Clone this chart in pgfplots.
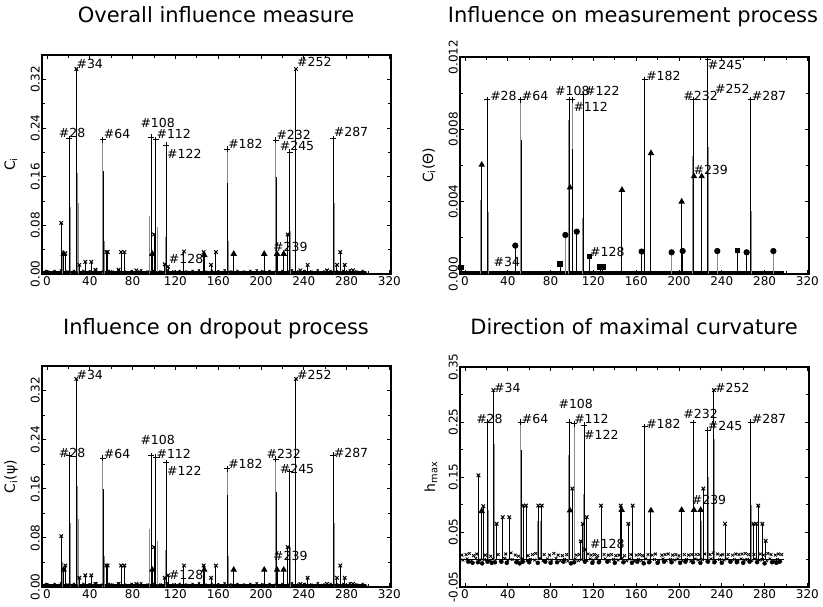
\documentclass[border=0pt]{standalone}
\usepackage{fontspec}
\setmainfont{DejaVu Sans}
\usepackage{pgfplots}
\pgfplotsset{compat=1.18}
\newcommand{\lab}{\fontsize{12.5}{13}\selectfont}
\newcommand{\ttl}{\fontsize{21}{24}\selectfont}
\tikzset{lbl/.style={anchor=west, inner sep=0pt, font=\lab}}
\pgfplotsset{
  panel/.style={
    scale only axis, width=349pt, anchor=south west,
    xmin=-4.7, xmax=321.5,
    xtick={0,40,...,320}, xticklabels={0,40,80,120,160,200,240,280,320},
    minor x tick num=1, minor y tick num=1,
    tick align=inside, major tick length=4pt, minor tick length=3pt,
    axis line style={line width=1.2pt},
    every tick/.style={black, line width=0.8pt},
    tick label style={font=\fontsize{12}{13}\selectfont},
    yticklabel style={rotate=90, anchor=south, inner sep=2pt},
    xticklabel style={inner sep=2pt},
    scaled y ticks=false, clip=false,
    ylabel style={font=\fontsize{14}{15}\selectfont, at={(axis description cs:-0.089,0.5)}, anchor=center},
  },
  gneedle/.style={ycomb, color=black!45, line width=1pt, mark=none},
  bneedle/.style={ycomb, black, line width=1pt},
}
\pgfplotstableread{
x y
-4 0.003
-1 0.005
1 0.004
4 0.002
7 0.005
10 0.003
13 0.006
16 0.002
19 0.004
22 0.003
25 0.005
28 0.002
31 0.003
34 0.005
37 0.002
40 0.004
43 0.003
46 0.006
49 0.002
52 0.004
55 0.003
58 0.005
61 0.004
64 0.002
67 0.006
70 0.003
73 0.004
76 0.002
79 0.005
82 0.003
85 0.004
88 0.006
91 0.002
94 0.004
97 0.003
100 0.005
103 0.002
106 0.004
109 0.003
112 0.006
115 0.002
118 0.004
121 0.003
124 0.005
127 0.002
130 0.004
133 0.003
136 0.005
139 0.002
142 0.006
145 0.003
148 0.004
151 0.002
154 0.005
157 0.003
160 0.004
163 0.002
166 0.006
169 0.003
172 0.004
175 0.002
178 0.005
181 0.003
184 0.004
187 0.002
190 0.005
193 0.003
196 0.006
199 0.002
202 0.004
205 0.003
208 0.005
211 0.002
214 0.004
217 0.003
220 0.005
223 0.002
226 0.004
229 0.006
232 0.003
235 0.004
238 0.002
241 0.005
244 0.003
247 0.004
250 0.002
253 0.006
256 0.003
259 0.004
262 0.002
265 0.005
268 0.003
271 0.004
274 0.002
277 0.005
280 0.003
283 0.006
286 0.002
289 0.004
292 0.003
295 0.005
298 0.002
}\noiseL
\begin{document}
\begin{tikzpicture}
\useasboundingbox (0,0) rectangle (823pt,606pt);
\node[anchor=base, font=\ttl, inner sep=0pt] at (216pt,583.5pt) {Overall influence measure};
\node[anchor=base, font=\ttl, inner sep=0pt] at (633pt,583.5pt) {Influence on measurement process};
\node[anchor=base, font=\ttl, inner sep=0pt] at (216pt,271.5pt) {Influence on dropout process};
\node[anchor=base, font=\ttl, inner sep=0pt] at (634pt,271.5pt) {Direction of maximal curvature};

% ---------------- Top left: overall
\begin{axis}[panel, at={(42pt,332pt)}, height=219pt, ymin=0, ymax=0.36,
  ytick={0,0.08,0.16,0.24,0.32}, yticklabels={0.00,0.08,0.16,0.24,0.32},
  ylabel={C\textsubscript{i}}]
\addplot[black, line width=3pt] coordinates {(-4,0.0022) (298,0.0022)};
\addplot[bneedle, mark=x, mark size=1.5pt, line width=0.8pt] table {\noiseL};
\addplot[gneedle] coordinates {(14,0.04) (22,0.11) (28.2,0.166) (29.3,0.117) (54,0.055) (96,0.095) (103,0.078) (110.5,0.06) (169.5,0.055) (228,0.07) (232,0.2) (268.3,0.117)};
\addplot[gneedle, mark=+, mark size=3pt, mark options={black, line width=1pt}] coordinates {(52.3,0.221) (168.5,0.205) (213.7,0.22)};
\addplot[bneedle] coordinates {(52.9,0.17) (169.1,0.15) (214.3,0.16)};
\addplot[bneedle, mark=+, mark size=3pt] coordinates {(20.9,0.222) (97.2,0.225) (101.6,0.221) (111.5,0.212) (226.8,0.2) (267.3,0.222)};
\addplot[bneedle, mark=x, mark size=2.5pt] coordinates {(27.4,0.337) (232.7,0.337) (13.3,0.084) (100,0.065) (224.9,0.065) (17.1,0.034) (30.2,0.015) (35.8,0.02) (41.4,0.02) (45.2,0.007) (55.5,0.036) (56.7,0.036) (66.9,0.007) (69.2,0.036) (72.3,0.036) (83.5,0.006) (110,0.016) (113.1,0.012) (128,0.037) (146.4,0.036) (153.3,0.015) (157.9,0.036) (236.8,0.006) (243.6,0.015) (261.7,0.006) (271,0.015) (274.1,0.036) (278.2,0.015) (286,0.006)};
\addplot[bneedle, mark=triangle*, mark size=2.8pt] coordinates {(15.6,0.033) (98.4,0.033) (147,0.031) (174.5,0.033) (203,0.033) (215,0.033) (221.2,0.033)};
\node[lbl] at (axis cs:27.4,0.345) {\#34};
\node[lbl] at (axis cs:10.9,0.232) {\#28};
\node[lbl] at (axis cs:53,0.231) {\#64};
\node[lbl] at (axis cs:87.2,0.248) {\#108};
\node[lbl] at (axis cs:102.2,0.231) {\#112};
\node[lbl] at (axis cs:112.1,0.198) {\#122};
\node[lbl] at (axis cs:113.7,0.024) {\#128};
\node[lbl] at (axis cs:169.2,0.214) {\#182};
\node[lbl] at (axis cs:214.3,0.229) {\#232};
\node[lbl] at (axis cs:217.4,0.21) {\#245};
\node[lbl] at (axis cs:211.2,0.044) {\#239};
\node[lbl] at (axis cs:233.6,0.349) {\#252};
\node[lbl] at (axis cs:267.9,0.233) {\#287};
\end{axis}

% ---------------- Top right: measurement
\begin{axis}[panel, at={(460pt,332pt)}, height=217pt, ymin=0, ymax=0.012,
  ytick={0,0.004,0.008,0.012}, yticklabels={0.000,0.004,0.008,0.012},
  ylabel={C\textsubscript{i}(Θ)}]
\addplot[black, line width=3pt] coordinates {(-4,0.00006) (298,0.00006)};
\addplot[gneedle] coordinates {(14.8,0.0041) (21.6,0.00345) (53.2,0.0026) (97,0.0085) (110,0.0031) (202,0.0035) (212.8,0.0065) (220.6,0.0054) (227.4,0.007) (254.5,0.00129) (267.8,0.0035)};
\addplot[gneedle, mark=+, mark size=3pt, mark options={black, line width=1pt}] coordinates {(52.3,0.00964) (100.3,0.00964)};
\addplot[bneedle] coordinates {(52.8,0.0074) (100.8,0.0069)};
\addplot[bneedle, mark=+, mark size=3pt] coordinates {(20.9,0.00964) (97.5,0.00964) (110.6,0.0099) (168.2,0.01074) (213.4,0.00964) (226.8,0.01185) (267,0.00964)};
\addplot[bneedle, mark=triangle*, mark size=2.8pt] coordinates {(15.6,0.00604) (98.1,0.00478) (146.7,0.00465) (173.8,0.00668) (202.5,0.004) (214,0.0054) (221.2,0.0054)};
\addplot[gneedle, mark=*, mark size=2.6pt, mark options={black}] coordinates {(93.8,0.00216) (193.1,0.0012) (235.8,0.00127) (288.2,0.00127)};
\addplot[bneedle, mark=*, mark size=2.6pt] coordinates {(47,0.00157) (104.4,0.00234) (165.1,0.00124) (203.4,0.00127) (263.2,0.0012)};
\addplot[bneedle, mark=square*, mark size=2.3pt] coordinates {(-3.7,0.00035) (88.8,0.00055) (116.2,0.00096) (126.2,0.0004) (128.7,0.0004) (254.5,0.00129)};
\node[lbl] at (axis cs:23.4,0.00982) {\#28};
\node[lbl] at (axis cs:53,0.00982) {\#64};
\node[lbl] at (axis cs:84.1,0.01015) {\#108};
\node[lbl] at (axis cs:112.1,0.01015) {\#122};
\node[lbl] at (axis cs:101.2,0.00927) {\#112};
\node[lbl] at (axis cs:26.5,0.00068) {\#34};
\node[lbl] at (axis cs:116.8,0.0012) {\#128};
\node[lbl] at (axis cs:169.2,0.01097) {\#182};
\node[lbl] at (axis cs:204,0.00982) {\#232};
\node[lbl] at (axis cs:233.6,0.01023) {\#252};
\node[lbl] at (axis cs:226.8,0.01158) {\#245};
\node[lbl] at (axis cs:213.4,0.00576) {\#239};
\node[lbl] at (axis cs:267.9,0.00982) {\#287};
\end{axis}

% ---------------- Bottom left: dropout
\begin{axis}[panel, at={(42pt,19pt)}, height=221pt, ymin=0, ymax=0.36,
  ytick={0,0.08,0.16,0.24,0.32}, yticklabels={0.00,0.08,0.16,0.24,0.32},
  ylabel={C\textsubscript{i}(ψ)}]
\addplot[black, line width=3pt] coordinates {(-4,0.0022) (298,0.0022)};
\addplot[bneedle, mark=x, mark size=1.5pt, line width=0.8pt] table {\noiseL};
\addplot[gneedle] coordinates {(14,0.04) (22,0.105) (28.2,0.165) (29.3,0.11) (54,0.05) (96,0.095) (103,0.075) (110.5,0.06) (169.5,0.05) (228,0.065) (232,0.23) (268.3,0.105)};
\addplot[gneedle, mark=+, mark size=3pt, mark options={black, line width=1pt}] coordinates {(52.3,0.21) (168.5,0.193) (213.7,0.208)};
\addplot[bneedle] coordinates {(52.9,0.16) (169.1,0.15) (214.3,0.155)};
\addplot[bneedle, mark=+, mark size=3pt] coordinates {(20.9,0.215) (97.2,0.214) (101.6,0.211) (111.5,0.202) (226.8,0.188) (267.3,0.215)};
\addplot[bneedle, mark=x, mark size=2.5pt] coordinates {(27.4,0.339) (232.7,0.339) (13.3,0.083) (100,0.065) (224.9,0.065) (17.1,0.035) (30.2,0.015) (35.8,0.019) (41.4,0.019) (45.2,0.005) (55.5,0.035) (56.7,0.035) (66.9,0.005) (69.2,0.035) (72.3,0.035) (83.5,0.005) (110,0.015) (113.1,0.019) (128,0.035) (146.4,0.035) (153.3,0.015) (157.9,0.035) (236.8,0.005) (243.6,0.015) (261.7,0.005) (271,0.015) (274.1,0.035) (278.2,0.015) (286,0.005)};
\addplot[bneedle, mark=triangle*, mark size=2.8pt] coordinates {(15.6,0.028) (98.4,0.028) (147,0.028) (174.5,0.028) (203,0.028) (215,0.028) (221.2,0.028)};
\node[lbl] at (axis cs:27.4,0.345) {\#34};
\node[lbl] at (axis cs:10.9,0.219) {\#28};
\node[lbl] at (axis cs:53,0.217) {\#64};
\node[lbl] at (axis cs:87.2,0.24) {\#108};
\node[lbl] at (axis cs:102.2,0.217) {\#112};
\node[lbl] at (axis cs:112.1,0.189) {\#122};
\node[lbl] at (axis cs:113.7,0.019) {\#128};
\node[lbl] at (axis cs:169.2,0.2) {\#182};
\node[lbl] at (axis cs:205,0.217) {\#232};
\node[lbl] at (axis cs:217.4,0.193) {\#245};
\node[lbl] at (axis cs:211.2,0.05) {\#239};
\node[lbl] at (axis cs:233.6,0.346) {\#252};
\node[lbl] at (axis cs:267.9,0.219) {\#287};
\end{axis}

% ---------------- Bottom right: h_max
\begin{axis}[panel, at={(460pt,19pt)}, height=220pt, ymin=-0.05, ymax=0.35,
  ytick={-0.05,0.05,0.15,0.25,0.35}, yticklabels={-0.05,0.05,0.15,0.25,0.35},
  ylabel={h\textsubscript{max}}, ylabel style={at={(axis description cs:-0.083,0.5)}}]
\addplot[black, line width=0.8pt] coordinates {(-4,0) (298,0)};
\addplot[only marks, black, mark=x, mark size=2pt, line width=0.8pt] coordinates {(-3,0.008) (1,0.009) (4,0.011) (8,0.007) (11,0.010) (19,0.008) (24,0.006) (31,0.009) (38,0.010) (43,0.012) (47,0.008) (50,0.006) (59,0.007) (63,0.009) (66,0.011) (74,0.009) (79,0.008) (83,0.011) (87,0.008) (91,0.007) (95,0.009) (104,0.008) (107,0.009) (115,0.010) (118,0.008) (121,0.009) (124,0.007) (130,0.009) (134,0.008) (137,0.009) (141,0.007) (144,0.008) (149,0.007) (155,0.009) (160,0.008) (163,0.009) (166,0.007) (171,0.009) (175,0.008) (178,0.010) (184,0.008) (187,0.009) (190,0.010) (194,0.008) (197,0.009) (200,0.007) (205,0.009) (209,0.008) (212,0.009) (216,0.009) (219,0.009) (224,0.010) (229,0.009) (232,0.012) (236,0.010) (239,0.008) (241,0.009) (246,0.009) (250,0.008) (253,0.010) (256,0.009) (259,0.010) (262,0.011) (265,0.009) (270,0.009) (276,0.010) (279,0.008) (283,0.011) (286,0.009) (290,0.008) (293,0.010) (296,0.009)};
\addplot[only marks, black, mark=x, mark size=2pt, line width=0.8pt] coordinates {(-2,-0.001) (2,0.001) (6,-0.002) (10,0.002) (14,-0.001) (18,0.000) (23,-0.003) (26,0.001) (33,-0.002) (37,0.002) (40,-0.001) (44,0.000) (49,-0.003) (53,0.001) (58,-0.002) (61,0.000) (65,-0.001) (70,0.002) (73,-0.002) (77,0.001) (81,-0.001) (85,0.002) (89,-0.002) (93,0.000) (96,-0.003) (103,0.001) (106,-0.002) (109,0.000) (114,-0.002) (117,0.001) (120,-0.001) (123,0.002) (126,-0.002) (131,0.001) (135,-0.003) (139,0.000) (143,-0.001) (147,0.002) (151,-0.002) (154,0.001) (158,-0.003) (162,0.000) (165,-0.002) (169,0.001) (173,-0.002) (177,0.000) (181,-0.003) (185,0.001) (188,-0.002) (192,0.000) (196,-0.001) (199,0.001) (203,-0.002) (207,0.000) (211,-0.003) (215,0.001) (218,-0.001) (222,0.000) (226,-0.002) (230,0.001) (234,-0.002) (238,0.000) (242,-0.001) (245,0.001) (249,-0.002) (252,0.000) (255,-0.003) (258,0.001) (261,-0.001) (264,0.000) (268,-0.002) (271,0.001) (275,-0.001) (278,0.000) (282,-0.002) (285,0.001) (289,-0.003) (292,0.000) (295,-0.002)};
\addplot[only marks, black, mark=*, mark size=2pt] coordinates {(3,-0.004) (7,-0.006) (12,-0.005) (16,-0.007) (21,-0.004) (25,-0.006) (28,-0.005) (34,-0.004) (39,-0.006) (48,-0.005) (51,-0.007) (54,-0.004) (60,-0.005) (68,-0.006) (75,-0.004) (80,-0.006) (86,-0.005) (92,-0.004) (99,-0.007) (102,-0.005) (112,-0.004) (119,-0.006) (125,-0.005) (133,-0.004) (140,-0.006) (148,-0.005) (156,-0.006) (161,-0.004) (167,-0.007) (172,-0.005) (180,-0.006) (186,-0.004) (193,-0.005) (201,-0.006) (206,-0.004) (213,-0.005) (220,-0.006) (227,-0.004) (233,-0.005) (240,-0.006) (248,-0.004) (254,-0.005) (260,-0.006) (266,-0.004) (273,-0.005) (280,-0.007) (287,-0.005) (291,-0.006) (294,-0.004)};
\addplot[gneedle] coordinates {(15,0.08) (22,0.09) (27.5,0.21) (55,0.07) (68,0.07) (71,0.07) (97,0.19) (100.8,0.12) (110.5,0.12) (146,0.09) (202,0.09) (220.6,0.07) (223.3,0.1) (228,0.15) (233.5,0.22) (268,0.1)};
\addplot[gneedle, mark=+, mark size=3pt, mark options={black, line width=1pt}] coordinates {(52.3,0.25) (101.9,0.247)};
\addplot[bneedle] coordinates {(53,0.2)};
\addplot[bneedle, mark=+, mark size=3pt] coordinates {(20.9,0.25) (97.5,0.25) (111.2,0.244) (168.2,0.241) (213.4,0.249) (226.8,0.235) (267,0.25)};
\addplot[bneedle, mark=x, mark size=2.5pt] coordinates {(12.5,0.153) (17.1,0.097) (26.5,0.308) (29.6,0.065) (35.2,0.077) (41.4,0.077) (54.5,0.098) (57,0.098) (68.5,0.098) (71.7,0.098) (100.3,0.129) (108.1,0.033) (110,0.065) (113.7,0.077) (112.1,0.018) (127.1,0.098) (145.5,0.098) (152.6,0.065) (156.7,0.098) (222.7,0.129) (232.7,0.308) (243,0.065) (269.5,0.065) (272,0.065) (274.1,0.098) (277.9,0.065) (281,0.034)};
\addplot[bneedle, mark=triangle*, mark size=2.8pt] coordinates {(15.6,0.088) (98.1,0.089) (146.4,0.09) (173.8,0.089) (202.5,0.09) (214,0.09) (220.2,0.09)};
\node[lbl] at (axis cs:27.1,0.312) {\#34};
\node[lbl] at (axis cs:10.3,0.256) {\#28};
\node[lbl] at (axis cs:53,0.256) {\#64};
\node[lbl] at (axis cs:87.2,0.282) {\#108};
\node[lbl] at (axis cs:101.9,0.256) {\#112};
\node[lbl] at (axis cs:111.2,0.226) {\#122};
\node[lbl] at (axis cs:116.8,0.029) {\#128};
\node[lbl] at (axis cs:169.2,0.246) {\#182};
\node[lbl] at (axis cs:204,0.265) {\#232};
\node[lbl] at (axis cs:211.8,0.108) {\#239};
\node[lbl] at (axis cs:226.8,0.243) {\#245};
\node[lbl] at (axis cs:233.6,0.312) {\#252};
\node[lbl] at (axis cs:267.9,0.256) {\#287};
\end{axis}
\end{tikzpicture}
\end{document}
